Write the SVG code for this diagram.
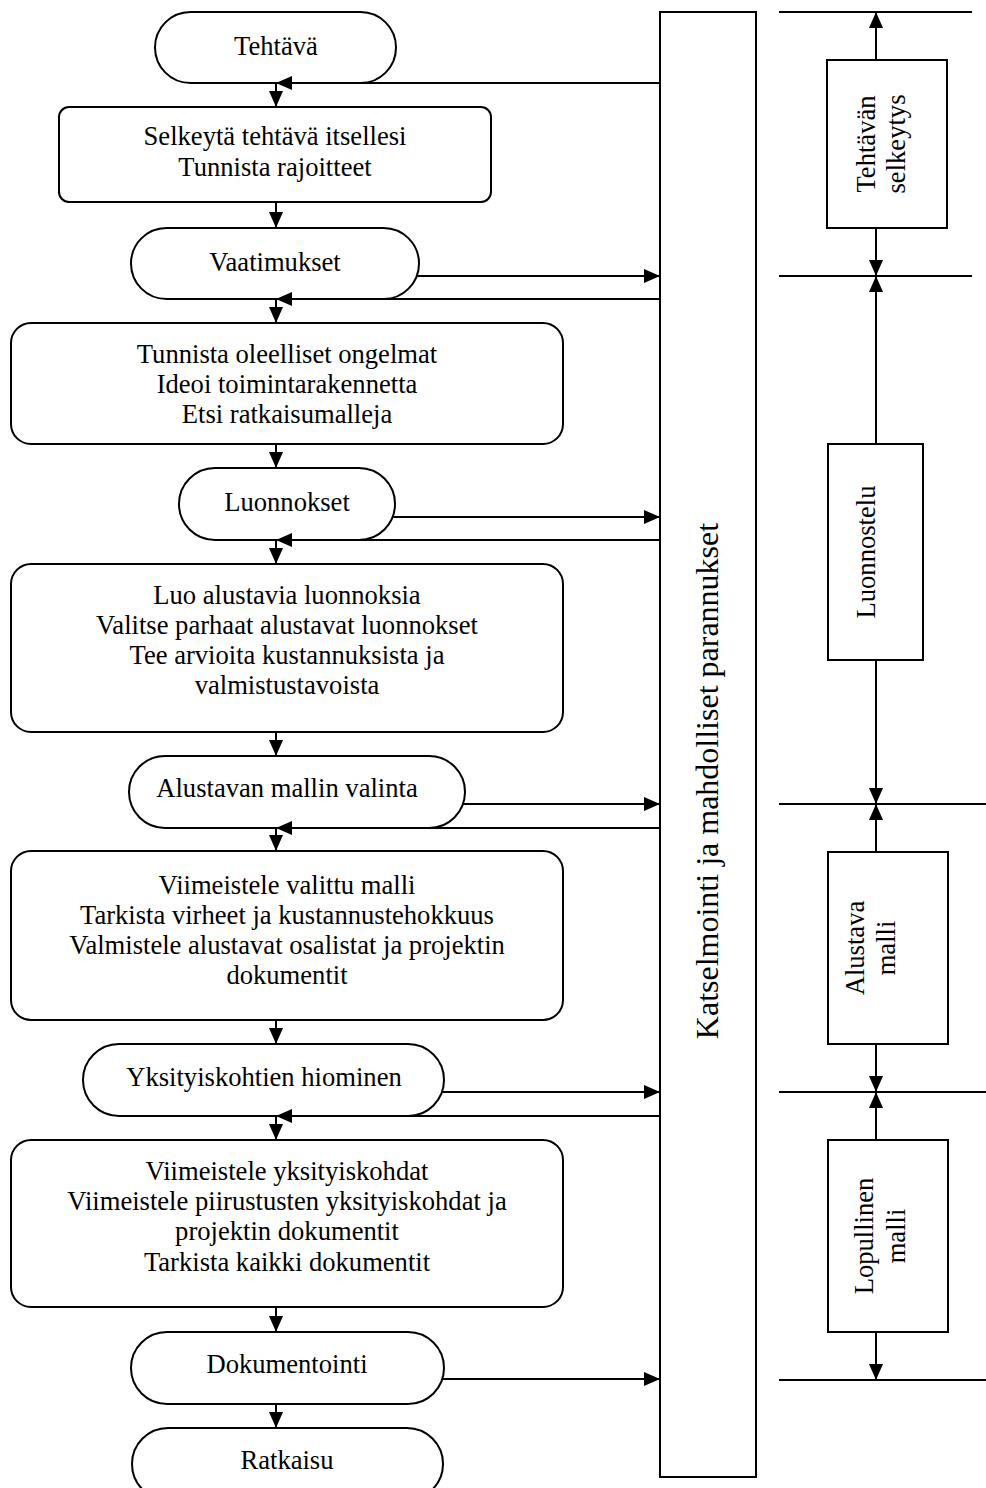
<svg xmlns="http://www.w3.org/2000/svg" width="986" height="1488" viewBox="0 0 986 1488">
<style>
.s{fill:#fff;stroke:#000;stroke-width:2}
.t{font-family:"Liberation Serif","Times New Roman",serif;font-size:26.6px;fill:#000;text-anchor:middle}
.c{stroke:#000;stroke-width:2;fill:none}
.a{marker-end:url(#ah)}
</style>
<defs>
<marker id="ah" viewBox="0 0 16 14" refX="16" refY="7" markerWidth="16" markerHeight="14" markerUnits="userSpaceOnUse" orient="auto">
<path d="M0,0 L16,7 L0,14 z" fill="#000"/>
</marker>
</defs>
<rect width="986" height="1488" fill="#fff"/>

<g id="n-tehtava"><rect class="s" x="155" y="12" width="241" height="71" rx="35.5"/><text class="t" x="276" y="55">Tehtävä</text></g>
<g id="n-selkeyta"><rect class="s" x="59" y="107" width="432" height="95" rx="10"/><text class="t" x="275" y="145">Selkeytä tehtävä itsellesi</text><text class="t" x="275" y="176">Tunnista rajoitteet</text></g>
<g id="n-vaatimukset"><rect class="s" x="131" y="228" width="288" height="71" rx="35.5"/><text class="t" x="275" y="271">Vaatimukset</text></g>
<g id="n-tunnista"><rect class="s" x="11" y="323" width="552" height="121" rx="20"/><text class="t" x="287" y="363">Tunnista oleelliset ongelmat</text><text class="t" x="287" y="393">Ideoi toimintarakennetta</text><text class="t" x="287" y="423">Etsi ratkaisumalleja</text></g>
<g id="n-luonnokset"><rect class="s" x="179" y="468" width="216" height="72" rx="36"/><text class="t" x="287" y="511">Luonnokset</text></g>
<g id="n-luo"><rect class="s" x="11" y="564" width="552" height="168" rx="20"/><text class="t" x="287" y="604">Luo alustavia luonnoksia</text><text class="t" x="287" y="634">Valitse parhaat alustavat luonnokset</text><text class="t" x="287" y="664">Tee arvioita kustannuksista ja</text><text class="t" x="287" y="694">valmistustavoista</text></g>
<g id="n-alustavan"><rect class="s" x="129" y="756" width="336" height="72" rx="36"/><text class="t" x="287" y="797">Alustavan mallin valinta</text></g>
<g id="n-viimeistele"><rect class="s" x="11" y="851" width="552" height="169" rx="20"/><text class="t" x="287" y="894">Viimeistele valittu malli</text><text class="t" x="287" y="924">Tarkista virheet ja kustannustehokkuus</text><text class="t" x="287" y="954">Valmistele alustavat osalistat ja projektin</text><text class="t" x="287" y="984">dokumentit</text></g>
<g id="n-yksityis"><rect class="s" x="83" y="1044" width="361" height="72" rx="36"/><text class="t" x="264" y="1086">Yksityiskohtien hiominen</text></g>
<g id="n-viimyks"><rect class="s" x="11" y="1140" width="552" height="167" rx="20"/><text class="t" x="287" y="1180">Viimeistele yksityiskohdat</text><text class="t" x="287" y="1210">Viimeistele piirustusten yksityiskohdat ja</text><text class="t" x="287" y="1240">projektin dokumentit</text><text class="t" x="287" y="1271">Tarkista kaikki dokumentit</text></g>
<g id="n-dokumentointi"><rect class="s" x="131" y="1332" width="313" height="72" rx="36"/><text class="t" x="287" y="1373">Dokumentointi</text></g>
<g id="n-ratkaisu"><rect class="s" x="132" y="1428" width="311" height="72" rx="36"/><text class="t" x="287" y="1469">Ratkaisu</text></g>

<g id="n-katselmointi"><rect class="s" x="660" y="12" width="96" height="1465"/><text class="t" transform="translate(718,781) rotate(-90)" style="font-size:32px">Katselmointi ja mahdolliset parannukset</text></g>

<g id="n-phase1"><rect class="s" x="827" y="60" width="120" height="168"/><text class="t" transform="translate(875,144) rotate(-90)">Tehtävän</text><text class="t" transform="translate(905,144) rotate(-90)">selkeytys</text></g>
<g id="n-phase2"><rect class="s" x="828" y="444" width="95" height="216"/><text class="t" transform="translate(875,552) rotate(-90)">Luonnostelu</text></g>
<g id="n-phase3"><rect class="s" x="828" y="852" width="120" height="192"/><text class="t" transform="translate(864,948) rotate(-90)">Alustava</text><text class="t" transform="translate(895,948) rotate(-90)">malli</text></g>
<g id="n-phase4"><rect class="s" x="828" y="1140" width="120" height="192"/><text class="t" transform="translate(873,1236) rotate(-90)">Lopullinen</text><text class="t" transform="translate(905,1236) rotate(-90)">malli</text></g>

<g id="connectors">
<line class="c a" x1="276" y1="83" x2="276" y2="107"/>
<line class="c a" x1="276" y1="202" x2="276" y2="228"/>
<line class="c a" x1="276" y1="299" x2="276" y2="323"/>
<line class="c a" x1="276" y1="444" x2="276" y2="468"/>
<line class="c a" x1="276" y1="540" x2="276" y2="564"/>
<line class="c a" x1="276" y1="732" x2="276" y2="756"/>
<line class="c a" x1="276" y1="828" x2="276" y2="851"/>
<line class="c a" x1="276" y1="1020" x2="276" y2="1044"/>
<line class="c a" x1="276" y1="1116" x2="276" y2="1140"/>
<line class="c a" x1="276" y1="1307" x2="276" y2="1332"/>
<line class="c a" x1="276" y1="1404" x2="276" y2="1428"/>

<line class="c a" x1="660" y1="83" x2="276" y2="83"/>
<line class="c a" x1="660" y1="299" x2="276" y2="299"/>
<line class="c a" x1="660" y1="540" x2="276" y2="540"/>
<line class="c a" x1="660" y1="828" x2="276" y2="828"/>
<line class="c a" x1="660" y1="1116" x2="276" y2="1116"/>

<line class="c a" x1="417" y1="276" x2="660" y2="276"/>
<line class="c a" x1="393" y1="517" x2="660" y2="517"/>
<line class="c a" x1="463" y1="804" x2="660" y2="804"/>
<line class="c a" x1="442" y1="1092" x2="660" y2="1092"/>
<line class="c a" x1="442" y1="1379" x2="660" y2="1379"/>

<line class="c" x1="779" y1="12" x2="972" y2="12"/>
<line class="c" x1="779" y1="276" x2="972" y2="276"/>
<line class="c" x1="779" y1="804" x2="986" y2="804"/>
<line class="c" x1="779" y1="1092" x2="986" y2="1092"/>
<line class="c" x1="779" y1="1380" x2="986" y2="1380"/>

<line class="c a" x1="876" y1="60" x2="876" y2="12"/>
<line class="c a" x1="876" y1="228" x2="876" y2="276"/>
<line class="c a" x1="876" y1="444" x2="876" y2="276"/>
<line class="c a" x1="876" y1="660" x2="876" y2="804"/>
<line class="c a" x1="876" y1="852" x2="876" y2="804"/>
<line class="c a" x1="876" y1="1044" x2="876" y2="1092"/>
<line class="c a" x1="876" y1="1140" x2="876" y2="1092"/>
<line class="c a" x1="876" y1="1332" x2="876" y2="1380"/>
</g>
</svg>
